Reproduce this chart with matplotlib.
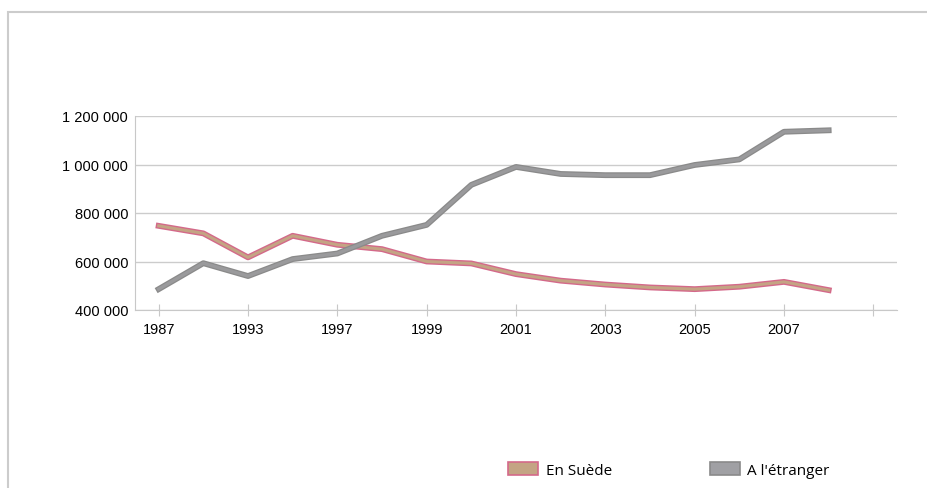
import numpy as np
import matplotlib.pyplot as plt
import matplotlib.patheffects as pe
from matplotlib.patches import Patch, Rectangle
from matplotlib.ticker import FuncFormatter

# categories on the x axis (last slot is empty)
years = ['1987', '1990', '1993', '1995', '1997', '1998', '1999', '2000',
         '2001', '2002', '2003', '2004', '2005', '2006', '2007', '2008', '']
en_suede = [747000, 716000, 617000, 706000, 669000, 651000, 600000, 592000,
            548000, 521000, 505000, 493000, 486000, 496000, 516000, 482000]
a_letranger = [486000, 593000, 540000, 610000, 633000, 706000, 751000, 916000,
               990000, 961000, 956000, 956000, 998000, 1021000, 1135000, 1141000]
yticks = [400000, 600000, 800000, 1000000, 1200000]

fig = plt.figure(figsize=(9.28, 4.89), dpi=100)
fig.patches.append(Rectangle((8/928, -0.1), 1.2, (489-13)/489 + 0.1,
                             transform=fig.transFigure, fill=False,
                             edgecolor='#cccccc', lw=1.5))

ax = fig.add_axes([135/928, 178/489, 762/928, 194/489])
x = np.arange(len(en_suede))

ax.plot(x, en_suede, color='#c4a484', lw=2.2, solid_joinstyle='round',
        path_effects=[pe.Stroke(linewidth=4.2, foreground='#d4698a'), pe.Normal()])
ax.plot(x, a_letranger, color='#9a9a9c', lw=2.4, solid_joinstyle='round',
        path_effects=[pe.Stroke(linewidth=4.2, foreground='#8a8a8a'), pe.Normal()])

ax.set_xlim(-0.53, len(years) - 0.47)
ax.set_ylim(400000, 1200000)
ax.set_yticks(yticks)
ax.yaxis.set_major_formatter(FuncFormatter(lambda v, p: '{:,.0f}'.format(v).replace(',', ' ')))
ax.set_xticks(np.arange(0, len(years), 2))
ax.set_xticklabels(years[::2])

ax.grid(axis='y', color='#cccccc', lw=1)
ax.set_axisbelow(True)
for s in ['top', 'right']:
    ax.spines[s].set_visible(False)
for s in ['left', 'bottom']:
    ax.spines[s].set_color('#c8c8c8')
ax.tick_params(axis='y', length=0, pad=5, labelsize=10.5)
ax.tick_params(axis='x', direction='inout', length=9, color='#c8c8c8',
               pad=4, labelsize=10.5)
for lbl in ax.get_xticklabels() + ax.get_yticklabels():
    lbl.set_fontfamily('Liberation Sans')

handles = [Patch(facecolor='#c4a484', edgecolor='#d4698a', lw=1.2),
           Patch(facecolor='#a0a0a4', edgecolor='#8a8a8a', lw=1.2)]
fig.legend(handles, ['En Suède', "A l'étranger"], loc='center',
           bbox_to_anchor=(669/928, 18/489), ncol=2, frameon=False,
           prop={'family': 'Open Sans', 'size': 11},
           handlelength=1.96, handleheight=0.9, handletextpad=0.5,
           columnspacing=6.4)

fig.savefig('out.png', dpi=100)
